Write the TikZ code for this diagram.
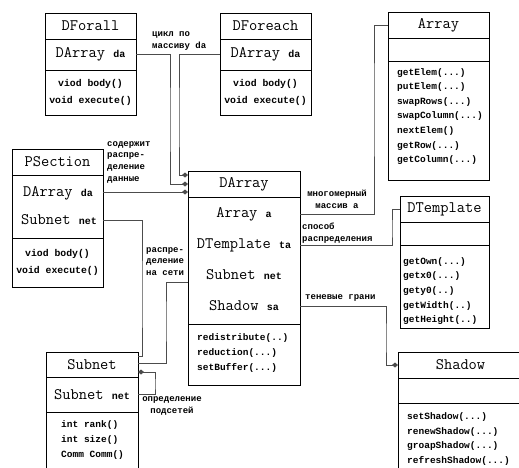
\documentclass[tikz,border=0pt]{standalone}
\usepackage{fontspec}
\newfontfamily\cyrmono{Liberation Mono}
\usetikzlibrary{arrows.meta}
\usetikzlibrary{positioning}

\newcommand{\clsfont}{\ttfamily\fontsize{16}{18}\selectfont}
\newcommand{\opfont}{\cyrmono\bfseries\fontsize{9.5}{14.6}\selectfont}
\newcommand{\bigopfont}{\cyrmono\bfseries\fontsize{9.8}{17}\selectfont}
\newcommand{\lblfont}{\cyrmono\bfseries\fontsize{9}{11.8}\selectfont}
\newcommand{\fld}[1]{{\cyrmono\bfseries\fontsize{10}{12}\selectfont #1}}

\tikzset{classhead/.style = {draw, line width=1pt, inner sep=0pt, outer sep=0pt,
                             minimum height=26pt, font=\clsfont},
         compart/.style = {draw, line width=1pt, inner sep=0pt, outer sep=0pt},
         attrtext/.style = {inner sep=0pt, font=\clsfont},
         optext/.style = {inner sep=0pt, align=left, anchor=west, font=\opfont},
         opmid/.style = {inner sep=0pt, align=center, font=\bigopfont},
         note/.style = {inner sep=0pt, align=left, font=\lblfont},
         link/.style = {draw=black!70, line width=0.8pt},
         owner/.style = {link, -{Diamond[length=6pt, width=5pt]}}}

\begin{document}
\begin{tikzpicture}[x=1pt, y=-1pt]
      \useasboundingbox (0, 0) rectangle (519, 467);
      \clip (0, 0) rectangle (519, 467);

      % DForall
      \node [classhead, minimum width=91, anchor=north west] (dforall) at (45, 13) {DForall};
      \node [compart, minimum width=91, minimum height=31, below=0pt of dforall] (dforallAttr) {};
      \node [compart, minimum width=91, minimum height=45, below=0pt of dforallAttr] (dforallOps) {};
      \node [attrtext] at (dforallAttr) {DArray \fld{da}};
      \node [opmid] at (dforallOps) {viod body()\\void execute()};

      % DForeach
      \node [classhead, minimum width=91, anchor=north west] (dforeach) at (220, 13) {DForeach};
      \node [compart, minimum width=91, minimum height=31, below=0pt of dforeach] (dforeachAttr) {};
      \node [compart, minimum width=91, minimum height=45, below=0pt of dforeachAttr] (dforeachOps) {};
      \node [attrtext] at (dforeachAttr) {DArray \fld{da}};
      \node [opmid] at (dforeachOps) {viod body()\\void execute()};

      % PSection
      \node [classhead, minimum width=91, anchor=north west] (psec) at (12, 149) {PSection};
      \node [compart, minimum width=91, minimum height=63, below=0pt of psec] (psecAttr) {};
      \node [compart, minimum width=91, minimum height=49, below=0pt of psecAttr] (psecOps) {};
      \node [attrtext] (psecDa) at (58, 193) {DArray \fld{da}};
      \node [attrtext] (psecNet) at (59, 220) {Subnet \fld{net}};
      \node [opmid] at (psecOps) {viod body()\\void execute()};

      % DArray
      \node [classhead, minimum width=112, anchor=north west] (darray) at (188, 171) {DArray};
      \node [compart, minimum width=112, minimum height=127, below=0pt of darray] (darrayAttr) {};
      \node [compart, minimum width=112, minimum height=61, below=0pt of darrayAttr] (darrayOps) {};
      \node [attrtext] (darrayA) at (244, 214) {Array \fld{a}};
      \node [attrtext] (darrayT) at (244, 245) {DTemplate \fld{ta}};
      \node [attrtext] (darrayN) at (244, 275) {Subnet \fld{net}};
      \node [attrtext] (darrayS) at (244, 306) {Shadow \fld{sa}};
      \node [optext] at (197, 353) {redistribute(..)\\reduction(...)\\setBuffer(...)};

      % Array
      \node [classhead, minimum width=101, anchor=north west] (array) at (388, 12) {Array};
      \node [compart, minimum width=101, minimum height=23, below=0pt of array] (arrayAttr) {};
      \node [compart, minimum width=101, minimum height=119, below=0pt of arrayAttr] (arrayOps) {};
      \node [optext] at (397, 116.5) {getElem(...)\\putElem(...)\\swapRows(...)\\swapColumn(...)\\nextElem()\\getRow(...)\\getColumn(...)};

      % DTemplate
      \node [classhead, minimum width=89, anchor=north west] (dtmpl) at (400, 196) {DTemplate};
      \node [compart, minimum width=89, minimum height=23, below=0pt of dtmpl] (dtmplAttr) {};
      \node [compart, minimum width=89, minimum height=83, below=0pt of dtmplAttr] (dtmplOps) {};
      \node [optext] at (403, 291) {getOwn(...)\\getx0(...)\\gety0(..)\\getWidth(..)\\getHeight(..)};

      % Shadow
      \node [classhead, minimum width=125, anchor=north west] (shadow) at (398, 352) {Shadow};
      \node [compart, minimum width=125, minimum height=25, below=0pt of shadow] (shadowAttr) {};
      \node [compart, minimum width=125, minimum height=80, below=0pt of shadowAttr] (shadowOps) {};
      \node [optext] at (407, 439) {setShadow(...)\\renewShadow(...)\\groapShadow(...)\\refreshShadow(...)};

      % Subnet
      \node [classhead, minimum width=92, minimum height=25, anchor=north west] (subnet) at (46, 352) {Subnet};
      \node [compart, minimum width=92, minimum height=35, below=0pt of subnet] (subnetAttr) {};
      \node [compart, minimum width=92, minimum height=70, below=0pt of subnetAttr] (subnetOps) {};
      \node [attrtext] at (subnetAttr) {Subnet \fld{net}};
      \node [optext] at (61, 440) {int rank()\\int size()\\Comm Comm()};

      % bends and free ends
      \coordinate (busForall) at (170, 120);
      \coordinate (busForeach) at (179, 120);
      \coordinate (busPsec) at (142, 300);
      \coordinate (busNet) at (166, 320);
      \coordinate (busLoop) at (155, 385);
      \coordinate (busArray) at (374, 100);
      \coordinate (busTmpl) at (392, 230);
      \coordinate (busShadow) at (386, 340);
      \coordinate (darrayIn1) at (188, 175);
      \coordinate (darrayIn3) at (188, 192);
      \coordinate (darrayOutN) at (188, 282);
      \coordinate (subnetIn1) at (138, 356);
      \coordinate (subnetIn2) at (138, 363);
      \coordinate (subnetSelf) at (138, 372);

      \draw [owner] (dforallAttr.east) -| (busForall) |- (darray.west);
      \draw [owner] (dforeachAttr.west) -| (busForeach) |- (darrayIn1);
      \draw [owner] (psecAttr.east |- darrayIn3) -- (darrayIn3);
      \draw [link] (psecAttr.east |- psecNet) -| (busPsec) |- (subnetIn1);
      \draw [link] (darrayOutN) -| (busNet) |- (subnetIn2);
      \draw [owner] (subnetAttr.east) -| (busLoop) |- (subnetSelf);
      \draw [link] (darrayAttr.east |- darrayA) -| (busArray) |- (array.west);
      \draw [link] (darrayAttr.east |- darrayT) -| (busTmpl) |- (dtmpl.west);
      \draw [owner] (darrayAttr.east |- darrayS) -| (busShadow) |- (shadow.west);

      % labels
      \node [note, anchor=west] (lblLoop) at (152, 41) {цикл по\\массиву da};
      \node [note, anchor=north west] (lblHolds) at (107, 141) {содержит\\распре-\\деление\\данные};
      \node [note, align=center] (lblMulti) at (337, 199) {многомерный\\массив  a};
      \node [note, anchor=west] (lblDistr) at (302, 233) {способ\\распределения};
      \node [note, anchor=west] (lblShade) at (305, 298) {теневые грани};
      \node [note, anchor=north west] (lblNet) at (146, 247) {распре-\\деление\\на сети};
      \node [note, align=center] (lblSub) at (172, 406) {определение\\подсетей};
    \end{tikzpicture}
\end{document}
